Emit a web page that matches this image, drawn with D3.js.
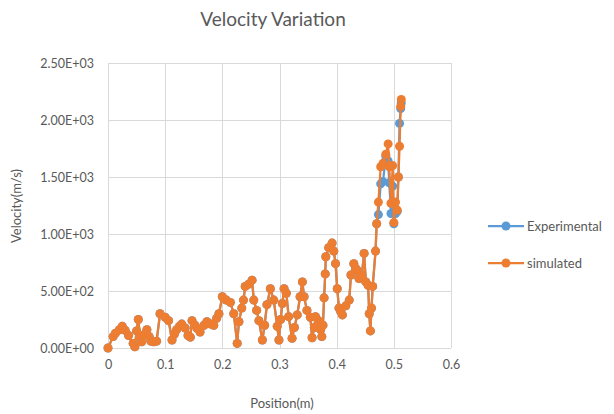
<!DOCTYPE html>
<html>
<head>
<meta charset="utf-8">
<script src="https://cdn.jsdelivr.net/npm/d3@7.9.0/dist/d3.min.js"></script>
<style>
  body { margin: 0; background: #fff; }
  svg { display: block; font-family: Lato, "Open Sans", sans-serif; }
</style>
</head>
<body>
<svg id="chart" width="614" height="414"></svg>
<script>
const position = [
  0.000, 0.009, 0.013, 0.020, 0.025, 0.030, 0.036, 0.044, 0.047, 0.050,
  0.053, 0.056, 0.059, 0.064, 0.068, 0.072, 0.075, 0.080, 0.085, 0.091,
  0.100, 0.106, 0.112, 0.116, 0.120, 0.125, 0.129, 0.135, 0.140, 0.144,
  0.147, 0.152, 0.156, 0.161, 0.168, 0.173, 0.180, 0.185, 0.190, 0.194,
  0.200, 0.207, 0.214, 0.220, 0.226, 0.229, 0.234, 0.237, 0.240, 0.246,
  0.252, 0.255, 0.260, 0.264, 0.270, 0.274, 0.278, 0.284, 0.290, 0.296,
  0.299, 0.302, 0.305, 0.308, 0.312, 0.316, 0.322, 0.326, 0.331, 0.336,
  0.340, 0.343, 0.348, 0.354, 0.357, 0.361, 0.363, 0.368, 0.372, 0.374,
  0.376, 0.378, 0.380, 0.381, 0.386, 0.392, 0.395, 0.398, 0.401, 0.404,
  0.407, 0.410, 0.416, 0.422, 0.425, 0.430, 0.433, 0.436, 0.439, 0.444,
  0.448, 0.451, 0.455, 0.457, 0.459, 0.461, 0.463, 0.468, 0.470, 0.473,
  0.477, 0.481, 0.486, 0.490, 0.492, 0.495, 0.498, 0.500, 0.503, 0.506,
  0.508, 0.510, 0.512, 0.513
];

const experimental = [
  0, 100, 130, 160, 190, 155, 110, 40, 10, 150,
  250, 100, 55, 120, 160, 100, 60, 55, 60, 300,
  270, 240, 70, 120, 160, 190, 210, 175, 110, 95,
  240, 200, 170, 140, 200, 230, 210, 200, 260, 300,
  450, 420, 400, 300, 40, 230, 350, 420, 540, 560,
  595, 420, 330, 240, 70, 200, 380, 520, 420, 190,
  70, 250, 390, 520, 480, 275, 85, 180, 290, 450,
  580, 450, 330, 270, 90, 180, 275, 240, 160, 100,
  200, 440, 650, 800, 880, 920, 850, 740, 520, 350,
  320, 290, 370, 420, 640, 740, 700, 680, 610, 640,
  830, 580, 550, 300, 150, 350, 540, 850, 1090, 1170,
  1440, 1460, 1680, 1640, 1450, 1180, 1420, 1090, 1180, 1200,
  1500, 1970, 2100, 2150
];

const simulated = [
  0, 100, 130, 160, 190, 155, 110, 40, 10, 150,
  250, 100, 55, 120, 160, 100, 60, 55, 60, 300,
  270, 240, 70, 120, 160, 190, 210, 175, 110, 95,
  240, 200, 170, 140, 200, 230, 210, 200, 260, 300,
  450, 420, 400, 300, 40, 230, 350, 420, 540, 560,
  595, 420, 330, 240, 70, 200, 380, 520, 420, 190,
  70, 250, 390, 520, 480, 275, 85, 180, 290, 450,
  580, 450, 330, 270, 90, 180, 275, 240, 160, 100,
  200, 440, 650, 800, 880, 920, 850, 740, 520, 350,
  320, 290, 370, 420, 640, 740, 700, 680, 610, 640,
  830, 580, 550, 300, 150, 350, 540, 850, 1090, 1280,
  1590, 1620, 1700, 1790, 1590, 1270, 1600, 1100, 1280, 1210,
  1500, 1770, 2120, 2180
];

const xTicks = [0, 0.1, 0.2, 0.3, 0.4, 0.5, 0.6];
const yTicks = [0, 500, 1000, 1500, 2000, 2500];
const seriesNames = ['Experimental', 'simulated'];
const seriesColors = ['#5b9bd5', '#ed7d31'];

const svg = d3.select('#chart');
const textColor = '#595959';

const x = d3.scaleLinear().domain([0, 0.6]).range([108, 451]);
const y = d3.scaleLinear().domain([0, 2500]).range([348, 63]);

const sciFormat = (v) => {
  const [m, e] = v.toExponential(2).split('e');
  const sign = e[0] === '-' ? '-' : '+';
  const digits = e.replace(/[+-]/, '').padStart(2, '0');
  return `${m}E${sign}${digits}`;
};

// gridlines
svg.append('g')
  .selectAll('line')
  .data(yTicks)
  .join('line')
  .attr('x1', x(0)).attr('x2', x(0.6))
  .attr('y1', (d) => y(d) + 0.5).attr('y2', (d) => y(d) + 0.5)
  .attr('stroke', '#d9d9d9');

svg.append('g')
  .selectAll('line')
  .data(xTicks)
  .join('line')
  .attr('y1', y(0)).attr('y2', y(2500))
  .attr('x1', (d) => Math.round(x(d)) + 0.5).attr('x2', (d) => Math.round(x(d)) + 0.5)
  .attr('stroke', '#d9d9d9');

// axes labels
const yAxis = d3.axisLeft(y).tickValues(yTicks).tickFormat(sciFormat).tickSize(0).tickPadding(14);
svg.append('g')
  .attr('transform', `translate(${x(0)},0)`)
  .call(yAxis)
  .call((g) => g.select('.domain').remove())
  .call((g) => g.selectAll('text').attr('fill', textColor).style('font-size', '12.5px').style('font-family', 'Lato, sans-serif'));

const xAxis = d3.axisBottom(x).tickValues(xTicks).tickFormat(d3.format('~g')).tickSize(0).tickPadding(12);
svg.append('g')
  .attr('transform', `translate(0,${y(0)})`)
  .call(xAxis)
  .call((g) => g.select('.domain').remove())
  .call((g) => g.selectAll('text').attr('fill', textColor).style('font-size', '12.5px').style('font-family', 'Lato, sans-serif'));

// titles
svg.append('text')
  .attr('x', 273).attr('y', 26)
  .attr('text-anchor', 'middle')
  .attr('fill', textColor)
  .style('font-size', '19px')
  .text('Velocity Variation');

svg.append('text')
  .attr('x', 282).attr('y', 408)
  .attr('text-anchor', 'middle')
  .attr('fill', textColor)
  .style('font-size', '13px')
  .text('Position(m)');

svg.append('text')
  .attr('transform', 'translate(21,206) rotate(-90)')
  .attr('text-anchor', 'middle')
  .attr('fill', textColor)
  .style('font-size', '13px')
  .text('Velocity(m/s)');

// series
const series = [experimental, simulated];
const line = d3.line()
  .x((d, i) => x(position[i]))
  .y((d) => y(d));

series.forEach((values, s) => {
  const g = svg.append('g');
  g.append('path')
    .datum(values)
    .attr('d', line)
    .attr('fill', 'none')
    .attr('stroke', seriesColors[s])
    .attr('stroke-width', 2.25)
    .attr('stroke-linejoin', 'round');
  g.selectAll('circle')
    .data(values)
    .join('circle')
    .attr('cx', (d, i) => x(position[i]))
    .attr('cy', (d) => y(d))
    .attr('r', 4.5)
    .attr('fill', seriesColors[s]);
});

// legend
const legend = svg.append('g');
seriesNames.forEach((name, i) => {
  const ly = 226 + i * 37;
  legend.append('line')
    .attr('x1', 488).attr('x2', 524)
    .attr('y1', ly).attr('y2', ly)
    .attr('stroke', seriesColors[i])
    .attr('stroke-width', 2.25);
  legend.append('circle')
    .attr('cx', 506).attr('cy', ly).attr('r', 4.5)
    .attr('fill', seriesColors[i]);
  legend.append('text')
    .attr('x', 527).attr('y', ly + 4.5)
    .attr('fill', textColor)
    .style('font-size', '13px')
    .text(name);
});
</script>
</body>
</html>
